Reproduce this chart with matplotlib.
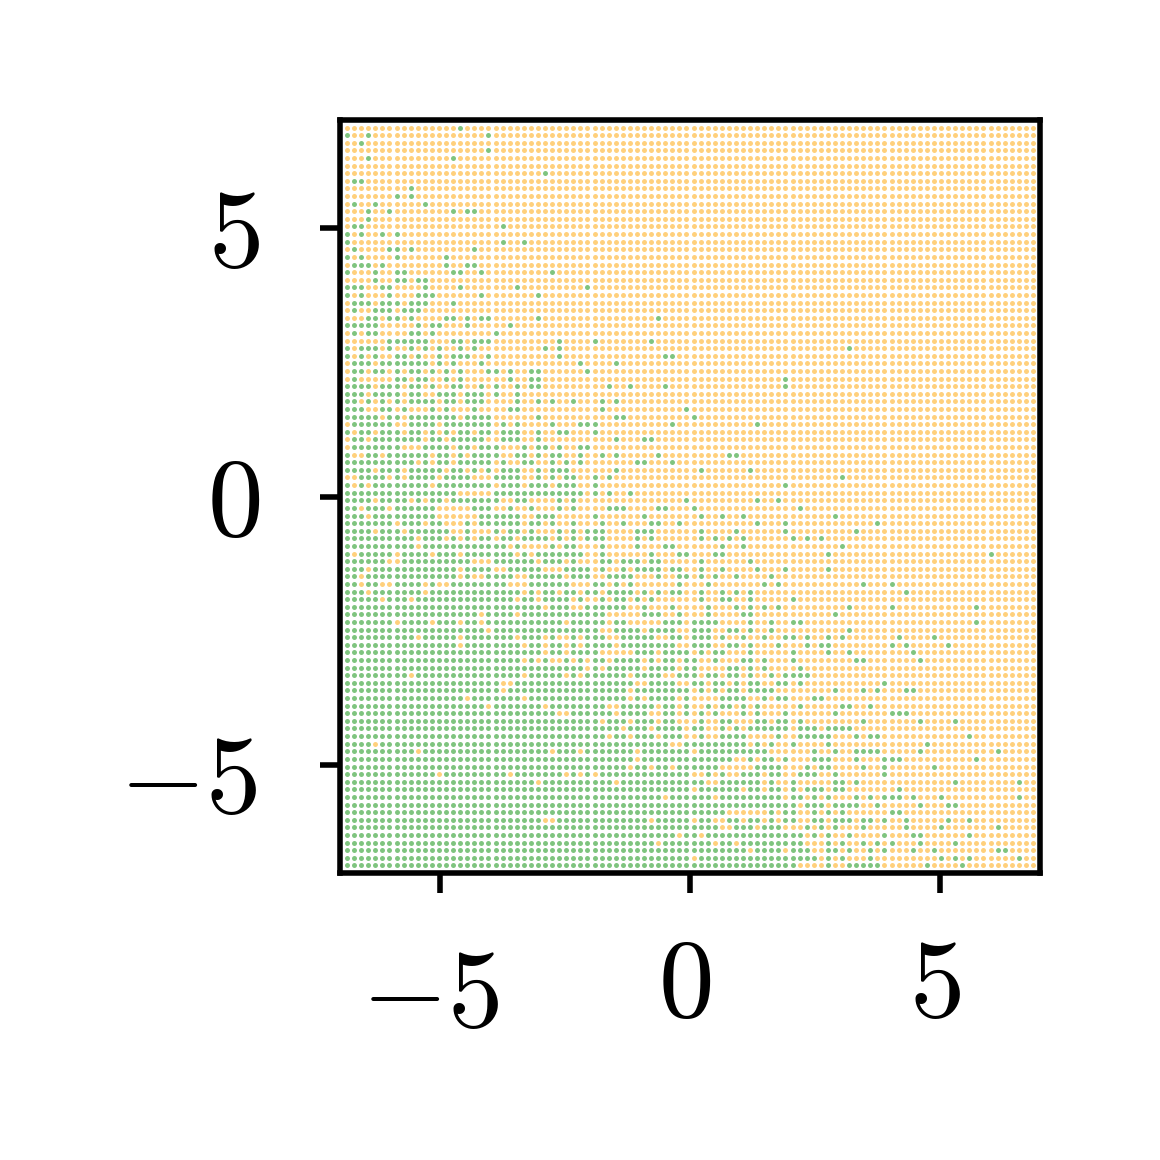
import numpy as np
import matplotlib
matplotlib.use("Agg")
import matplotlib.pyplot as plt
from matplotlib.transforms import ScaledTranslation

plt.rcParams['mathtext.fontset'] = 'cm'

x_grid = np.linspace(-7, 7, 100)[1:-1]
y_grid = np.linspace(7, -7, 100)[1:-1]
tick_values = [-5, 0, 5]
tick_labels = [r'$-5$', r'$0$', r'$5$']

# rows 0-48: columns of class-1 (green) points, all others class-0
green_upper = [
    [16], [0,3,20], [2], [20], [3,15], [], [28], [1,2], [9], [7,9],
    [1,4,11], [3,6,15,17,18], [3], [1,2,22], [0,2,5,7], [0,22,25],
    [1,6,7,9,18], [0,2,7,14], [1,2,3,5,14,17,18], [0,4,7,8,15,16,19,29],
    [4,7,8,10,11], [0,1,2,5,6,11,16,24,34], [0,2,6,10,11,12,19,27],
    [1,2,3,5,6,7,9,10,11,15], [1,4,5,6,8,9,10],
    [3,4,6,7,9,14,15,17,19,20,27,44],
    [0,1,2,3,4,10,12,13,17,23],
    [1,3,4,9,10,12,21],
    [6,7,8,9,10,11,15,16,18,19,20,30,35,43],
    [0,2,3,4,6,9,11,13,16,18,28,30,71],
    [0,2,4,7,8,10,13,15,16,17,20,30,45,46],
    [1,2,3,5,6,7,8,9,10,11,13,15,19,33,38],
    [1,2,4,5,7,9,10,12,14,16,20,21,23,26,27,34],
    [1,7,8,10,11,14,16,23,26,27,62],
    [0,1,2,3,5,6,7,9,10,12,15,16,19,21,24,26,27,37,40,45,62],
    [0,1,2,4,5,6,7,9,10,13,14,15,17,18,19,21,24],
    [0,1,3,5,7,9,10,11,12,14,15,17,18,19,24,27,29,32,36,38],
    [0,1,2,5,6,8,12,14,18,23,24,36,48],
    [0,1,2,3,4,6,7,9,10,11,12,13,14,15,17,18,19,20,27,38,39,49],
    [1,2,3,4,5,6,9,10,11,12,14,15,16,17,18,19,20,22,24,29,33,34,35,46,58],
    [0,2,3,5,6,7,9,10,12,14,16,17,19,20,22,23,24,27,30,31,35],
    [1,2,4,5,6,7,8,9,10,12,13,15,16,17,18,19,22,23,24,27,38,42,43],
    [1,2,3,4,5,6,7,11,12,13,14,16,17,19,20,21,25,27,28,30,33,34],
    [0,3,4,6,7,8,9,10,11,13,14,16,18,19,20,21,24,25,27,29,30,33,36,38,44,54,55],
    [0,1,2,3,4,5,6,7,8,9,11,13,14,16,17,18,19,20,22,25,26,29,31,33,41,42,46],
    [0,1,2,3,5,6,7,9,10,11,12,13,15,16,18,20,22,23,24,27,29,30,31,38,50,57],
    [2,3,4,5,7,9,10,11,12,14,15,16,17,21,22,23,24,27,29,31,32,35,37,70],
    [0,2,4,5,6,7,8,9,10,11,13,14,15,16,17,18,19,20,22,23,24,26,27,28,30,31,32,35,62],
    [0,1,2,3,4,5,6,7,8,9,10,11,12,13,14,15,21,22,23,24,25,26,27,28,29,30,31,32,33,35,37,40],
]

# rows 49-73, columns 0-32: class-0 (orange) exceptions
orange_left = [
    [4,9,11,14,22,23,26,27,28,29,31],
    [2,6,13,14,15,16,17,21,22,24,25,27,28,29,31],
    [3,13,14,15,16,17,18,25,26,30,31,32],
    [7,11,14,15,16,18,25,28,30,31],
    [4,8,15,16,18,19,20,22,25,27,28,29,31],
    [10,14,16,18,21,24,29,31],
    [10,23,25,26,27,28,30],
    [1,7,12,16,24,26],
    [6,7,18,19,20,27,31],
    [3,16,21,22,28,29,30],
    [2,16,18,19,24,25,31],
    [2,5,6,11,13,14,23,24,25,32],
    [3,11,25,27,30],
    [5,9,24,27,32],
    [28,32],
    [19,24],
    [7,12,16,19,31],
    [20],
    [10,16,24,28,30,31],
    [16,25,28,31],
    [28,31],
    [25,27,29,30,32],
    [],
    [9,25,31],
    [22,23],
]

# rows 49-73, columns 33-64: class-1 (green) points
green_mid = [
    [48,58,61],
    [37,38,39,44,45,49,64],
    [35,42,50,53,56],
    [36,39,43,44,47,58,62],
    [34,35,36,41,42,43,50,55,62],
    [34,35,36,41,43,50,52,54,56,63],
    [36,41,45,46,53,56],
    [33,36,43,47,48,52,53],
    [36,37,39,40,41,43,44,50,57],
    [33,34,36,39,41,42,43,44,46,47,50,53,58,62],
    [33,34,37,38,39,40,44,47,48,50,52,55,60],
    [35,36,38,40,47,51,59,61],
    [34,35,37,38,39,40,42,44,46,47,50,53,55,57],
    [33,36,38,39,41,43,50,53,54,57,63],
    [34,35,36,37,38,39,42,46,51,55,57,59,61],
    [33,34,35,36,42,43,44,47,51,56,57],
    [33,34,35,36,38,39,45,46,47,49,50,51,52,57,60,63,64],
    [33,34,35,38,39,40,41,43,44,45,46,49,50,51,54,55,57,60],
    [34,35,36,39,40,41,42,43,46,47,49,50,51,53,56,59,62,63],
    [34,35,36,37,39,40,41,42,43,44,45,46,49,50,51,54,55,57,61],
    [33,34,35,41,42,43,45,46,47,48,50,52,53,57,63],
    [33,35,36,38,39,40,41,43,45,46,48,49,52,56,57,59,63],
    [33,35,37,38,39,40,41,43,44,45,46,48,49,54,55,57,59,64],
    [34,35,36,37,38,39,41,42,43,44,47,48,49,51,52,54,55,57,60,62,63,64],
    [33,34,35,36,37,38,39,40,43,44,45,46,49,50,52,53,55,57,58,61,62,64],
]

# rows 74-97, columns 0-64: class-0 (orange) exceptions
orange_lower = [
    [22,40,49,51,53,56,61,62,63,64],
    [17,25,40,42,47,49,50,51,52,57,58,60,63,64],
    [20,28,37,38,44,47,49,50,52,55,57,59,60,61,62,63],
    [30,31,38,43,44,47,49,51,53,54,55,57,59,60,61,63,64],
    [36,40,44,47,48,49,51,52,55,56,57,60,63],
    [39,43,48,51,52,54,56,63],
    [37,40,44,48,49,51,52,57,58,59,60,62,63],
    [4,46,47,57,59,61,62,64],
    [10,29,33,41,49,60,61,62,63,64],
    [41,55,56,58,61,63,64],
    [40,43,46,53,54,55,56,57,62,63,64],
    [13,23,31,33,35,49,50,52,54,55,59,62,63],
    [27,38,51,52,59,61,62,64],
    [49,56,59,62,64],
    [45,52,62],
    [64],
    [54,55,56,57,58,59,61,64],
    [28,29,43,49,52,53,56,59,61,64],
    [53,54,58,62,63,64],
    [47,50],
    [44,52,55],
    [57,62],
    [49],
    [64],
]

# rows 49-97, columns 65-97: class-1 (green) points
green_right = [
    [], [], [69], [75], [72], [65,67], [70], [68,91], [], [68],
    [], [73,77], [79], [], [71,77,89], [69], [89], [71],
    [65,68,70,78,83], [65,67,68,77,79,85], [68,71,80], [72,73,81], [],
    [65], [76],
    [69,73,75,79,80], [66,67], [70,71,74], [69,77,78,79], [73,81,86],
    [65,66,68,69,70,71], [65,66,67,68,72,74,75,88], [68,82],
    [66,69,72,73,74,75,81,92], [66,67,68,72,76,77,78,89],
    [65,67,68,73,76,83], [65,66,69,76], [69,70,72,86,95],
    [65,66,67,69,70,78], [66,68,72,74,76,77,78,80,84,95],
    [65,66,67,69,70,71,72,75,81,85,86], [66,68,70,77,78],
    [66,67,69,70,71,73,74,76,79,85,88], [65,67,69,73,79,84,92],
    [66,68,71,76,80,81,88], [68,70,73,75,77,81,86],
    [65,68,69,71,74,76,80,83,92,93], [65,66,68,70,74,84,86,88,95],
    [68,71,72,73,74,75,82,87],
]

n = len(x_grid)
labels = np.zeros((n, n), dtype=int)
for r, cols in enumerate(green_upper):
    labels[r, cols] = 1
for k, cols in enumerate(orange_left):
    r = 49 + k
    labels[r, :33] = 1
    labels[r, cols] = 0
    labels[r, green_mid[k]] = 1
for k, cols in enumerate(orange_lower):
    r = 74 + k
    labels[r, :65] = 1
    labels[r, cols] = 0
for k, cols in enumerate(green_right):
    labels[49 + k, cols] = 1

X, Y = np.meshgrid(x_grid, y_grid)

fig = plt.figure(figsize=(2.9, 2.9), dpi=400)
ax = fig.add_axes([340/1160, 1-873/1160, 700/1160, 753/1160])
ax.scatter(X[labels == 0], Y[labels == 0], s=0.8, c='#FFD07C', linewidths=0)
ax.scatter(X[labels == 1], Y[labels == 1], s=0.8, c='#7FC47F', linewidths=0)
ax.set_xlim(-7, 7)
ax.set_ylim(-7, 7)
ax.set_xticks(tick_values)
ax.set_yticks(tick_values)
ax.set_xticklabels(tick_labels)
ax.set_yticklabels(tick_labels)
ax.tick_params(labelsize=20, length=3.6, width=1.0)
ax.tick_params(axis='x', pad=7.2)
ax.tick_params(axis='y', pad=10.8)
for s in ax.spines.values():
    s.set_linewidth(1.0)

def px(dx, dy):
    return ScaledTranslation(dx/400, dy/400, fig.dpi_scale_trans)

for lab, dx, dy in zip(ax.get_xticklabels(), [-10, -5, -5], [-10, 0, 0]):
    lab.set_transform(lab.get_transform() + px(dx, dy))
for lab, dx, dy in zip(ax.get_yticklabels(), [-3, 0, 0], [-6, 2, 3]):
    lab.set_transform(lab.get_transform() + px(dx, dy))

fig.savefig('out.png', dpi=400)
